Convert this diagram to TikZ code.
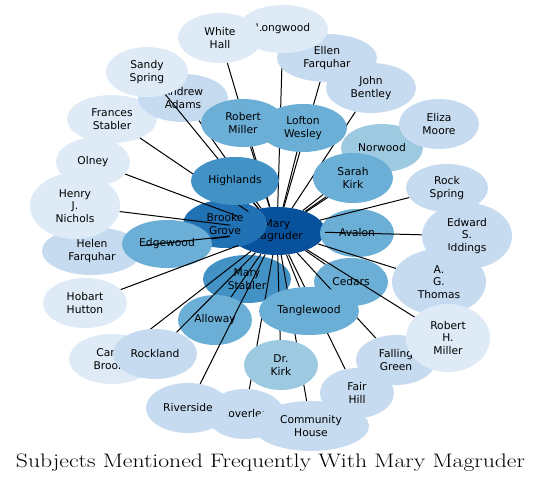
\documentclass[tikz,border=0pt]{standalone}
\usepackage{fontspec}
\newfontfamily\dvs{DejaVu Sans}
\usetikzlibrary{shapes.geometric}
\pgfdeclarelayer{front}
\pgfsetlayers{main,front}
\definecolor{cA}{HTML}{08519C}
\definecolor{cB}{HTML}{2171B5}
\definecolor{cC}{HTML}{4292C6}
\definecolor{cD}{HTML}{6BAED6}
\definecolor{cE}{HTML}{9ECAE1}
\definecolor{cF}{HTML}{C6DBEF}
\definecolor{cG}{HTML}{DEEBF7}
\newcommand\mkn[7]{\node[nd,fill=#6,minimum width=#4pt,minimum height=#5pt] (#1) at (#2,#3) {#7};}
\begin{document}
\begin{tikzpicture}[x=1pt,y=-1pt,
  nd/.style={ellipse,inner sep=0pt,align=center,font=\dvs\fontsize{10.7}{12.4}\selectfont},
  ed/.style={line width=1pt,black}]
\useasboundingbox (0,0) rectangle (541,487);
% nodes behind the connectors
\mkn{mm}{277}{231}{96}{48}{cA}{Mary\\Magruder}
\mkn{hf}{92}{251}{100}{48}{cF}{Helen\\Farquhar}
\mkn{ol}{93}{162}{74}{48}{cG}{Olney}
\mkn{hn}{75}{206}{90}{66}{cG}{Henry\\J.\\Nichols}
\mkn{fs}{112}{119}{90}{48}{cG}{Frances\\Stabler}
\mkn{aa}{183}{98}{90}{48}{cF}{Andrew\\Adams}
\mkn{ss}{147}{72}{82}{50}{cG}{Sandy\\Spring}
\mkn{bg}{225}{224}{84}{48}{cB}{Brooke\\Grove}
\mkn{ew}{167}{244}{90}{48}{cD}{Edgewood}
\mkn{av}{357}{233}{74}{48}{cD}{Avalon}
\mkn{ms}{247}{279}{88}{48}{cC}{Mary\\Stabler}
\mkn{al}{215}{320}{74}{50}{cD}{Alloway}
\mkn{ce}{351}{282}{74}{48}{cD}{Cedars}
\mkn{cb}{112}{359}{86}{50}{cG}{Camp\\Brooke}
\mkn{hh}{85}{303}{84}{50}{cG}{Hobart\\Hutton}
\mkn{cl}{245}{414}{78}{50}{cF}{Cloverleaf}
\mkn{rv}{188}{408}{84}{50}{cF}{Riverside}
% nodes in front of the connectors
\begin{pgfonlayer}{front}
\mkn{hl}{235}{181}{88}{48}{cC}{Highlands}
\mkn{rm}{243}{123}{84}{48}{cD}{Robert\\Miller}
\mkn{lw}{303}{128}{88}{48}{cD}{Lofton\\Wesley}
\mkn{nw}{382}{148}{82}{48}{cE}{Norwood}
\mkn{sk}{353}{178}{80}{50}{cD}{Sarah\\Kirk}
\mkn{tw}{309}{311}{100}{48}{cD}{Tanglewood}
\mkn{dk}{281}{365}{74}{50}{cE}{Dr.\\Kirk}
\mkn{ef}{327}{58}{100}{48}{cF}{Ellen\\Farquhar}
\mkn{lg}{283}{29}{90}{48}{cG}{Longwood}
\mkn{wh}{220}{38}{84}{50}{cG}{White\\Hall}
\mkn{jb}{371}{88}{90}{50}{cF}{John\\Bentley}
\mkn{em}{439}{124}{80}{50}{cF}{Eliza\\Moore}
\mkn{rs}{447}{188}{82}{48}{cF}{Rock\\Spring}
\mkn{ei}{467}{236}{90}{66}{cF}{Edward\\S.\\Iddings}
\mkn{ag}{439}{282}{94}{66}{cF}{A.\\G.\\Thomas}
\mkn{fg}{396}{360}{80}{50}{cF}{Falling\\Green}
\mkn{fh}{357}{393}{74}{50}{cF}{Fair\\Hill}
\mkn{ch}{311}{426}{116}{50}{cF}{Community\\House}
\mkn{hm}{448}{338}{84}{68}{cG}{Robert\\H.\\Miller}
\mkn{rl}{155}{354}{84}{50}{cF}{Rockland}
\end{pgfonlayer}
% connectors
\foreach \t in {hl,rm,lw,sk,ce,tw,al,ew,nw,dk,aa,ef,jb,em,rs,ei,ag,hf,rl,rv,cl,ch,fh,fg,wh,lg,ss,fs,ol,hn,hh,cb,hm}
  \draw[ed] (mm) -- (\t);
% title
\node[font=\fontsize{19.5}{22}\selectfont,anchor=base,inner sep=0pt] (title) at (270.5,467) {\scalebox{1.215}[1]{Subjects Mentioned Frequently With Mary Magruder}};
\end{tikzpicture}
\end{document}
